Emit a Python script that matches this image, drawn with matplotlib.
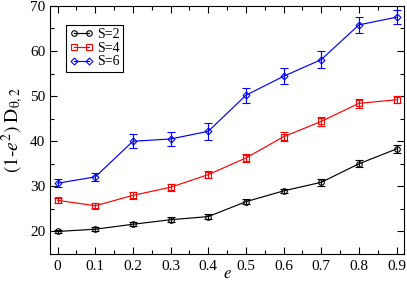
import matplotlib
matplotlib.use('Agg')
import matplotlib.pyplot as plt
from matplotlib.lines import Line2D
from matplotlib.ticker import MultipleLocator

plt.rcParams['font.family'] = ['Liberation Serif', 'DejaVu Serif']
plt.rcParams['mathtext.fontset'] = 'stix'

e = [0.0, 0.1, 0.2, 0.3, 0.4, 0.5, 0.6, 0.7, 0.8, 0.9]
e_labels = ['0', '0.1', '0.2', '0.3', '0.4', '0.5', '0.6', '0.7', '0.8', '0.9']

s2 = [20.0, 20.5, 21.6, 22.6, 23.3, 26.6, 29.0, 30.9, 35.0, 38.3]
s2_err = [0.3, 0.4, 0.4, 0.5, 0.6, 0.5, 0.5, 0.8, 0.8, 0.8]

s4 = [26.9, 25.7, 28.0, 29.8, 32.6, 36.3, 41.0, 44.4, 48.4, 49.2]
s4_err = [0.6, 0.6, 0.8, 0.8, 0.8, 0.9, 1.0, 1.0, 1.0, 0.8]

s6 = [30.7, 32.1, 40.0, 40.5, 42.2, 50.2, 54.4, 58.1, 65.8, 67.5]
s6_err = [0.9, 0.9, 1.6, 1.5, 1.9, 1.7, 1.8, 1.8, 1.7, 1.5]

fig = plt.figure(figsize=(4.07, 2.81), dpi=100)
ax = fig.add_axes([0.123, 0.096, 0.870, 0.883])

series = [
    (s2, s2_err, 'black', 'o', 4, 'S=2'),
    (s4, s4_err, 'red', 's', 4, 'S=4'),
    (s6, s6_err, 'blue', 'D', 3.5, 'S=6'),
]
handles = []
for y, err, c, m, ms, lab in series:
    ax.errorbar(e, y, yerr=err, color=c, marker=m, markersize=ms,
                markerfacecolor='none', markeredgewidth=0.8, linewidth=0.85,
                elinewidth=0.85, capsize=3, capthick=0.85)
    handles.append(Line2D([], [], color=c, marker=m, markersize=ms,
                          markerfacecolor='none', markeredgewidth=0.8,
                          linewidth=0.85, label=lab))

ax.set_xlim(-0.02, 0.92)
ax.set_ylim(15, 70)
ax.set_xticks(e)
ax.set_xticklabels(e_labels)
ax.xaxis.set_minor_locator(MultipleLocator(0.05))
ax.yaxis.set_major_locator(MultipleLocator(10))
ax.yaxis.set_minor_locator(MultipleLocator(5))
ax.tick_params(which='both', direction='in', top=True, right=True, labelsize=11)
ax.tick_params(which='major', length=5, width=0.8)
ax.tick_params(which='minor', length=3, width=0.8)
ax.tick_params(axis='x', pad=4)

ax.set_xlabel(r'$e$', fontsize=12, labelpad=-5)
ax.set_ylabel(r'$\left(1\text{-}e^2\right)\;\mathrm{D}_{\mathrm{\theta,2}}$',
              fontsize=14, labelpad=3)

leg = ax.legend(handles=handles, loc='upper left', bbox_to_anchor=(0.045, 0.925),
                fontsize=10, numpoints=2, handlelength=1.7, handletextpad=0.3,
                borderpad=0.25, labelspacing=0.05, borderaxespad=0,
                fancybox=False, framealpha=1)
leg.get_frame().set_edgecolor('black')
leg.get_frame().set_linewidth(0.8)

fig.savefig('out.png', dpi=100)
